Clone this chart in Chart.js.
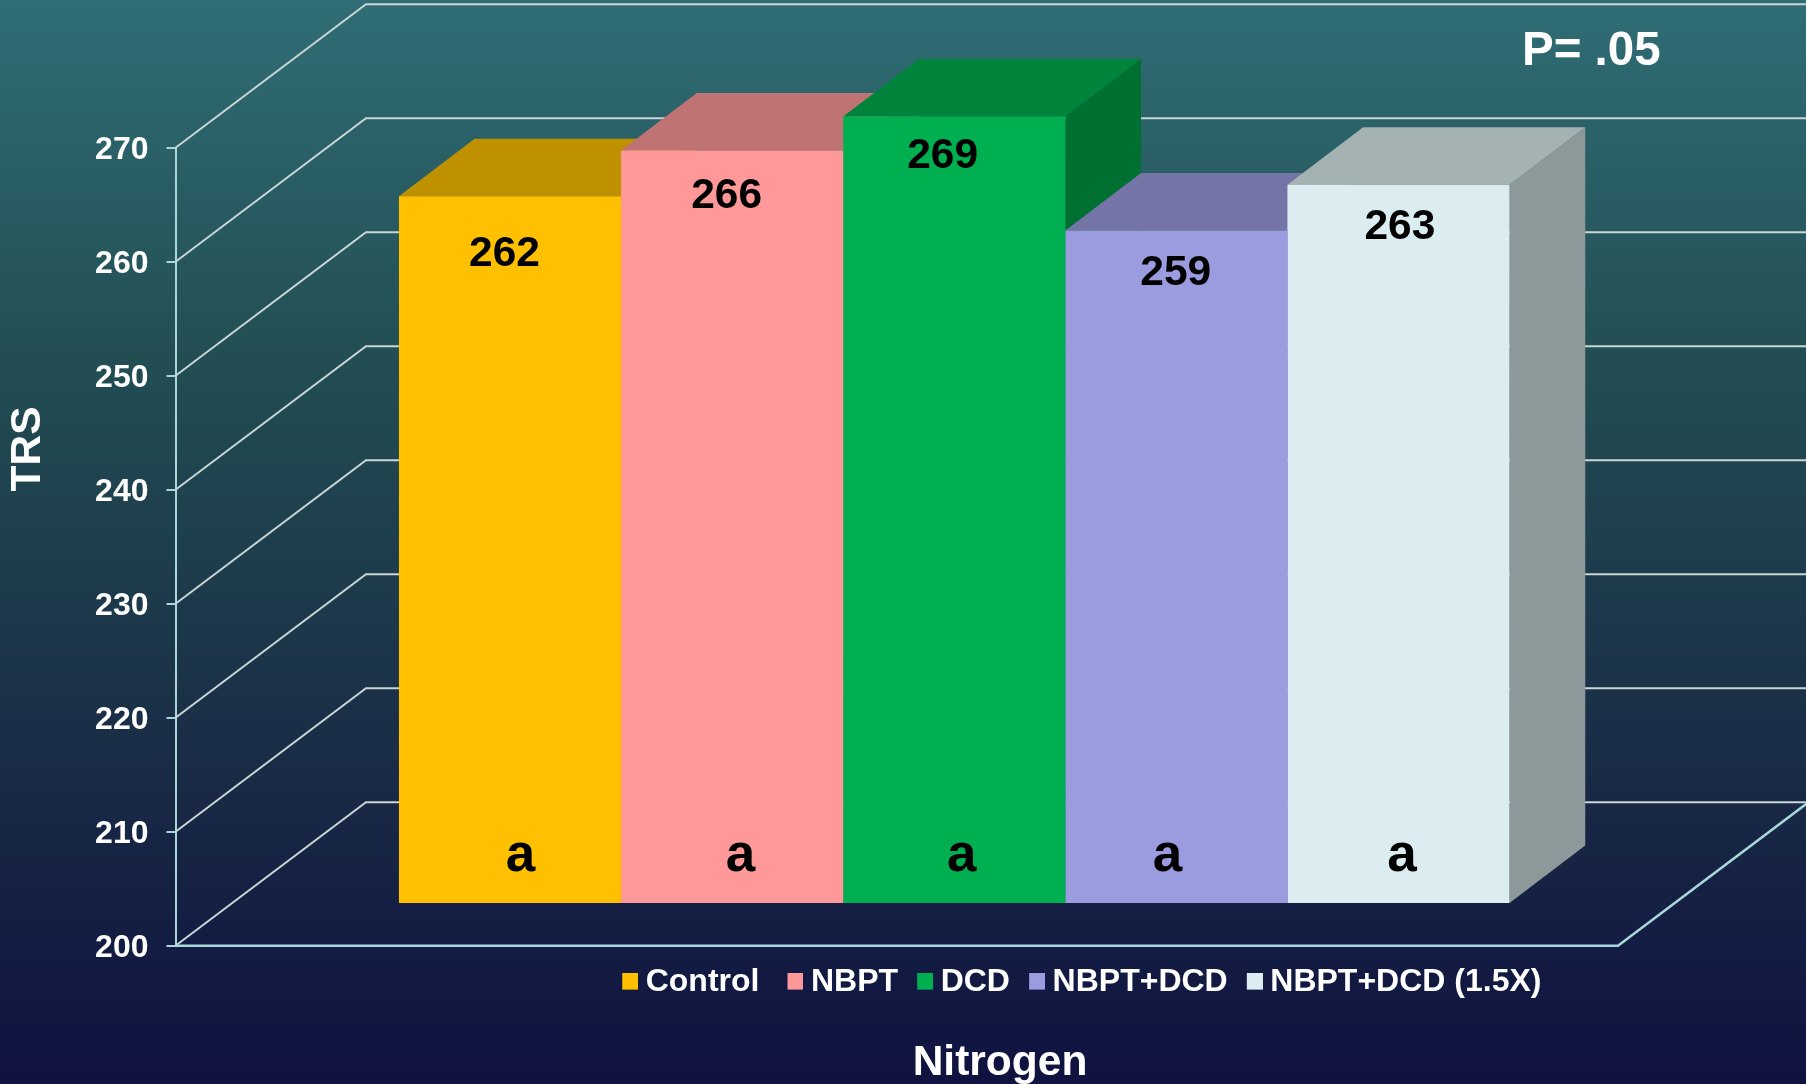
<!DOCTYPE html>
<html><head><meta charset="utf-8">
<style>html,body{margin:0;padding:0;background:#111442}#c{display:block}</style>
<script src="https://cdn.jsdelivr.net/npm/chart.js@4"></script>
</head><body><canvas id="c" width="1806" height="1084"></canvas>
<script>
const seriesNames = ['Control','NBPT','DCD','NBPT+DCD','NBPT+DCD (1.5X)'];
const seriesValues = [262,266,269,259,263];
const letters = ['a','a','a','a','a'];
const categoryLabels = ['Nitrogen'];
const frontColors = ['#FFC000','#FF9999','#00B050','#9B9BDF','#DBEDF0'];
const topColors = ['#BF9000','#BF7373','#00843C','#7474A7','#A4B2B2'];
const sideColors = ['#A37B00','#A36262','#007032','#63638F','#8C9899'];

const FONT = '"Liberation Sans", Arial, sans-serif';
const A = {left:175.5, right:1733, top:147.7, bottom:945.7};   // plot rectangle
const WALL = {dx:190.5, dy:-143.4};     // depth of the 3D box
const BAR = {dx:75.7, dy:-57.5, lift:42.7}; // depth of bars, lift above the front floor edge
const FLOOR_RIGHT = 1618;
const VALUE_OFF = [[-5.5,70],[-5.5,57],[-11.6,52],[-0.6,55],[1.4,54.3]]; // label offset from bar top centre
const LETTER_X = [520.5,740.6,961.8,1167.5,1402];
const LETTER_BASE = 871;
const unit = (A.bottom-A.top)/70;
const shift = BAR.lift/unit;

function swatch(color){
  const c=document.createElement('canvas');c.width=18;c.height=19;
  const x=c.getContext('2d');x.fillStyle=color;x.fillRect(2,0,16,17);return c;
}
const swatches = frontColors.map(swatch);

function poly(ctx,pts,fill){
  ctx.beginPath();pts.forEach((p,i)=>i?ctx.lineTo(p[0],p[1]):ctx.moveTo(p[0],p[1]));ctx.closePath();
  ctx.fillStyle=fill;ctx.fill();
}
const bg = {id:'bg',beforeDraw(ch){
  const {ctx,width,height}=ch;
  const g=ctx.createLinearGradient(0,0,0,height);
  g.addColorStop(0,'#306D75');g.addColorStop(.33,'#224E53');g.addColorStop(.72,'#192A45');g.addColorStop(.9,'#121A42');g.addColorStop(1,'#101240');
  ctx.fillStyle=g;ctx.fillRect(0,0,width,height);
}};
const box3d = {id:'box3d',beforeDatasetsDraw(ch){
  const {ctx}=ch,y=ch.scales.y;
  ctx.save();ctx.lineWidth=2;ctx.strokeStyle='#C9D6D6';
  y.ticks.forEach(t=>{
    const p=y.getPixelForValue(t.value);
    ctx.beginPath();ctx.moveTo(A.left,p);ctx.lineTo(A.left+WALL.dx,p+WALL.dy);ctx.lineTo(1806,p+WALL.dy);ctx.stroke();
  });
  const f=y.getPixelForValue(200);
  ctx.strokeStyle='#A9D6D8';ctx.lineWidth=2.5;
  ctx.beginPath();ctx.moveTo(A.left,f);ctx.lineTo(FLOOR_RIGHT,f);ctx.lineTo(FLOOR_RIGHT+WALL.dx,f+WALL.dy);ctx.stroke();
  seriesValues.forEach((v,i)=>{
    const b=ch.getDatasetMeta(i).data[0];
    const l=b.x-b.width/2,r=b.x+b.width/2,t=b.y,bs=b.base;
    poly(ctx,[[r,t],[r+BAR.dx,t+BAR.dy],[r+BAR.dx,bs+BAR.dy],[r,bs]],sideColors[i]);
    poly(ctx,[[l,t],[l+BAR.dx,t+BAR.dy],[r+BAR.dx,t+BAR.dy],[r,t]],topColors[i]);
  });
  ctx.restore();
}};
const texts = {id:'texts',afterDatasetsDraw(ch){
  const {ctx}=ch;
  ctx.save();ctx.textBaseline='alphabetic';ctx.textAlign='center';ctx.fillStyle='#000';
  seriesValues.forEach((v,i)=>{
    const b=ch.getDatasetMeta(i).data[0];
    ctx.font='bold 42.5px '+FONT;
    ctx.fillText(String(v),b.x+VALUE_OFF[i][0],b.y+VALUE_OFF[i][1]);
    ctx.font='bold 53px '+FONT;
    ctx.fillText(letters[i],LETTER_X[i],LETTER_BASE);
  });
  ctx.fillStyle='#fff';
  ctx.textAlign='left';ctx.font='bold 47.5px '+FONT;ctx.fillText('P= .05',1522,65);
  ctx.textAlign='center';ctx.font='bold 42.5px '+FONT;ctx.fillText(categoryLabels[0],1000,1075);
  ctx.translate(40,449);ctx.rotate(-Math.PI/2);ctx.font='bold 42.5px '+FONT;ctx.fillText('TRS',0,0);
  ctx.restore();
}};
const placeLegend = {id:'placeLegend',afterLayout(ch){
  const L=ch.legend,w=L.width,h=L.height;
  L.left=603.1;L.right=603.1+w;L.top=940.5;L.bottom=940.5+h;
  const items=ch.scales.y.getLabelItems();
  items.forEach(it=>{it.options.translation[1]+=2.3;});
}};
const chart = new Chart(document.getElementById('c'),{
  type:'bar',
  data:{labels:categoryLabels,datasets:seriesNames.map((n,i)=>({
    label:n,data:[seriesValues[i]],backgroundColor:frontColors[i],base:200,clip:false,yAxisID:'y2'
  }))},
  plugins:[bg,box3d,texts,placeLegend],
  options:{
    responsive:false,animation:false,
    layout:{padding:{left:0,top:50,right:1806-A.right,bottom:1084-A.bottom}},
    datasets:{bar:{categoryPercentage:1110.6/(A.right-A.left),barPercentage:1}},
    plugins:{
      title:{display:false},tooltip:{enabled:false},
      legend:{display:true,position:'top',align:'start',labels:{
        color:'#fff',font:{family:FONT,size:32,weight:'bold'},padding:25.6,usePointStyle:true,pointStyleWidth:1,
        generateLabels(ch){
          return Chart.defaults.plugins.legend.labels.generateLabels(ch).map((it,i)=>({...it,pointStyle:swatches[i],
            text:i===0?it.text+' ':it.text}));
        }
      }}
    },
    scales:{
      x:{display:false,grid:{display:false}},
      y:{min:200,max:270,position:'left',
        afterFit(s){s.width=A.left;},
        border:{display:true,color:'#A9D6D8',width:2},
        grid:{drawOnChartArea:false,drawTicks:true,tickLength:9,color:'#A9D6D8',lineWidth:2},
        ticks:{stepSize:10,color:'#fff',padding:18,font:{family:FONT,size:32,weight:'bold'}}
      },
      y2:{display:false,min:200-shift,max:270-shift}
    }
  }
});
chart.options.layout.padding.top += A.top-chart.chartArea.top;
chart.update('none');
</script></body></html>
